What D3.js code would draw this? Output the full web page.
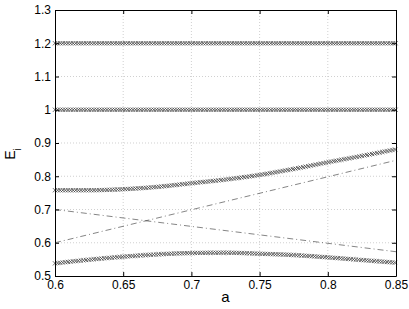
<!DOCTYPE html>
<html><head><meta charset="utf-8">
<script src="https://cdn.jsdelivr.net/npm/d3@7"></script>
<style>body{margin:0;background:#fff}svg{display:block}text{font-family:"Liberation Sans",Arial,sans-serif}</style>
</head><body><svg id="c" width="409" height="309"></svg>
<script>
const aKeys = [0.6, 0.625, 0.65, 0.675, 0.7, 0.725, 0.75, 0.775, 0.8, 0.825, 0.85];
const E4 = [1.2, 1.2, 1.2, 1.2, 1.2, 1.2, 1.2, 1.2, 1.2, 1.2, 1.2];
const E3 = [1.0, 1.0, 1.0, 1.0, 1.0, 1.0, 1.0, 1.0, 1.0, 1.0, 1.0];
const E2 = [0.758, 0.758, 0.761, 0.768, 0.779, 0.790, 0.804, 0.822, 0.842, 0.861, 0.881];
const E1 = [0.538, 0.549, 0.558, 0.565, 0.569, 0.570, 0.567, 0.563, 0.556, 0.548, 0.540];
const aLine = [0.6, 0.85];
const dashUp = [0.6, 0.848];
const dashDown = [0.7, 0.573];
const xTicks = [0.6, 0.65, 0.7, 0.75, 0.8, 0.85];
const yTicks = [0.5, 0.6, 0.7, 0.8, 0.9, 1.0, 1.1, 1.2, 1.3];

const L = 55, R = 396, T = 10, B = 276;
const svg = d3.select("#c");
const x = d3.scaleLinear().domain([0.6, 0.85]).range([L, R]);
const y = d3.scaleLinear().domain([0.5, 1.3]).range([B, T]);
const fmt = d => (d === 1 ? "1" : String(+d.toFixed(2)));

// grid
const g = svg.append("g");
g.selectAll(".gx").data(xTicks.slice(1, -1)).join("line")
  .attr("x1", d => x(d)).attr("x2", d => x(d)).attr("y1", T).attr("y2", B)
  .attr("stroke", "#bbb").attr("stroke-width", 0.7).attr("stroke-dasharray", "1,2");
g.selectAll(".gy").data(yTicks.slice(1, -1)).join("line")
  .attr("y1", d => y(d)).attr("y2", d => y(d)).attr("x1", L).attr("x2", R)
  .attr("stroke", "#bbb").attr("stroke-width", 0.7).attr("stroke-dasharray", "1,2");

// dash-dot lines
const line2 = d3.line().x((d, i) => x(aLine[i])).y(d => y(d));
[dashUp, dashDown].forEach(arr => {
  svg.append("path").attr("d", line2(arr)).attr("fill", "none")
    .attr("stroke", "#333").attr("stroke-width", 0.6).attr("stroke-dasharray", "6,3,1,3");
});

// marker curves
const curveLine = d3.line().x((d, i) => x(aKeys[i])).y(d => y(d)).curve(d3.curveMonotoneX);
[E4, E3, E2, E1].forEach(arr => {
  const p = svg.append("path").attr("d", curveLine(arr)).attr("fill", "none").attr("stroke", "none");
  const node = p.node();
  const len = node.getTotalLength();
  const step = 2.6, s = 2.1;
  let path = "";
  for (let l = 0; l <= len; l += step) {
    const pt = node.getPointAtLength(l);
    path += `M${pt.x - s},${pt.y - s}L${pt.x + s},${pt.y + s}M${pt.x - s},${pt.y + s}L${pt.x + s},${pt.y - s}`;
  }
  svg.append("path").attr("d", path).attr("fill", "none").attr("stroke", "#444").attr("stroke-width", 0.8);
});

// axes box and ticks
const ax = svg.append("g");
ax.append("g").attr("transform", `translate(0,${B})`).call(d3.axisBottom(x).tickValues(xTicks).tickFormat(fmt).tickSizeInner(-4).tickSizeOuter(0).tickPadding(4));
ax.append("g").attr("transform", `translate(0,${T})`).call(d3.axisTop(x).tickValues(xTicks).tickFormat("").tickSizeInner(-4).tickSizeOuter(0));
ax.append("g").attr("transform", `translate(${L},0)`).call(d3.axisLeft(y).tickValues(yTicks).tickFormat(fmt).tickSizeInner(-4).tickSizeOuter(0).tickPadding(4));
ax.append("g").attr("transform", `translate(${R},0)`).call(d3.axisRight(y).tickValues(yTicks).tickFormat("").tickSizeInner(-4).tickSizeOuter(0));
ax.selectAll(".domain").attr("stroke", "#000").attr("stroke-width", 1);
ax.selectAll(".tick line").attr("stroke", "#000");
ax.selectAll(".tick text").attr("font-size", 12).attr("fill", "#000").attr("font-family", "Liberation Sans, Arial, sans-serif");

// labels
svg.append("text").attr("x", (L + R) / 2).attr("y", 302).attr("text-anchor", "middle")
  .attr("font-size", 15).text("a");
const yl = svg.append("text").attr("transform", "translate(15,154) rotate(-90)").attr("text-anchor", "middle")
  .attr("font-size", 14);
yl.append("tspan").text("E");
yl.append("tspan").attr("font-size", 10).attr("dy", 6).text("i");
</script></body></html>
